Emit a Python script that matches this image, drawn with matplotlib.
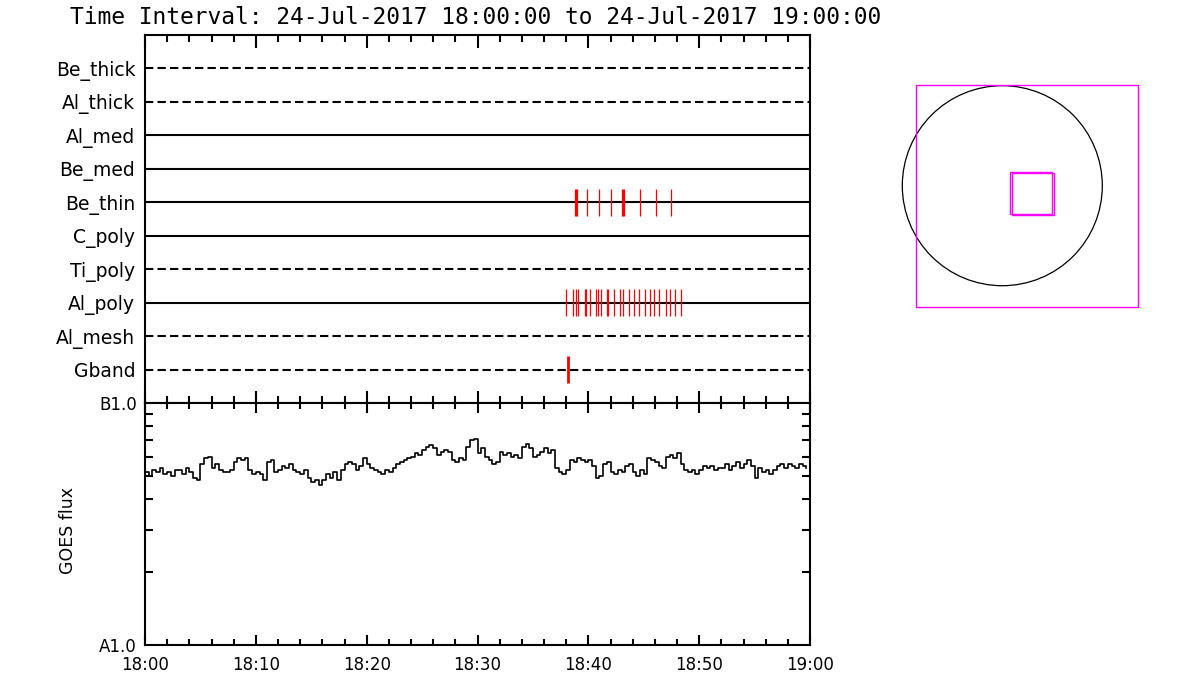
"""XRT filter coverage + GOES flux timeline"""

import numpy as np
import matplotlib
matplotlib.use('Agg')
import matplotlib.pyplot as plt
from matplotlib.patches import Circle, Rectangle
from matplotlib.ticker import FixedLocator, NullFormatter

# filters, bottom row first
filters = ['Gband', 'Al_mesh', 'Al_poly', 'Ti_poly', 'C_poly',
           'Be_thin', 'Be_med', 'Al_med', 'Al_thick', 'Be_thick']
dashed = ['Gband', 'Al_mesh', 'Ti_poly', 'Al_thick', 'Be_thick']

# exposure times, minutes after 18:00
be_thin_times = [38.8, 38.9, 39.0, 39.92, 40.95, 42.0, 43.02, 43.1, 43.26,
                 44.7, 46.15, 47.5]
al_poly_times = [38.02, 38.65, 38.92, 39.1, 39.67, 39.79, 40.18, 40.66,
                 40.84, 41.17, 41.71, 41.8, 42.34, 42.88, 43.15, 43.64,
                 44.14, 44.6, 45.08, 45.56, 45.95, 46.4, 47.03, 47.39,
                 47.84, 48.38]
gband_times = [38.14]

# GOES 1-8 A flux in units of 1e-8 W/m^2, one value per 20 s
goes_flux = [
    5.2, 5.0, 5.3, 5.2, 5.4, 5.1, 5.2, 5.0, 5.3, 5.3, 5.1, 5.4,
    5.2, 4.9, 4.8, 5.6, 5.9, 6.0, 5.4, 5.6, 5.3, 5.2, 5.2, 5.3,
    5.7, 5.9, 5.8, 5.9, 5.3, 5.1, 5.2, 5.1, 4.8, 5.7, 5.8, 5.2,
    5.3, 5.5, 5.4, 5.6, 5.3, 5.2, 5.1, 5.3, 4.9, 4.7, 4.8, 4.6,
    4.8, 5.1, 4.9, 5.2, 4.8, 5.3, 5.6, 5.7, 5.6, 5.3, 5.5, 5.9,
    5.6, 5.4, 5.3, 5.2, 5.1, 5.3, 5.2, 5.4, 5.6, 5.7, 5.8, 5.9,
    6.0, 6.2, 6.1, 6.4, 6.6, 6.7, 6.5, 6.1, 6.3, 6.4, 6.3, 5.8,
    5.7, 5.9, 5.8, 6.6, 7.0, 7.1, 6.2, 6.5, 6.0, 5.8, 5.6, 5.7,
    6.3, 6.1, 6.2, 6.0, 6.1, 5.9, 6.6, 6.8, 6.5, 6.0, 6.1, 6.3,
    6.5, 6.2, 6.4, 5.4, 5.2, 5.1, 5.3, 5.8, 5.7, 5.9, 5.8, 5.7,
    5.8, 5.5, 4.9, 5.0, 5.6, 5.7, 5.2, 5.1, 5.3, 5.2, 5.5, 5.6,
    5.2, 5.0, 5.3, 5.1, 5.9, 5.8, 5.7, 5.5, 5.4, 6.0, 6.1, 5.9,
    6.2, 5.6, 5.3, 5.2, 5.3, 5.1, 5.3, 5.5, 5.4, 5.5, 5.3, 5.4,
    5.4, 5.6, 5.3, 5.5, 5.7, 5.4, 5.6, 5.8, 5.5, 4.9, 5.4, 5.2,
    5.3, 5.1, 5.3, 5.5, 5.6, 5.4, 5.6, 5.5, 5.4, 5.6, 5.5, 5.4,
]
time_labels = ['18:00', '18:10', '18:20', '18:30', '18:40', '18:50', '19:00']

# solar disk and XRT fields of view (arcsec)
sun_radius = 945
fov_xcen = [236, 274, 293]
fov_ycen = [-96, -72, -81]
fov_size = [2100, 397, 397]

title = 'Time Interval: 24-Jul-2017 18:00:00 to 24-Jul-2017 19:00:00'

plt.rcParams['font.family'] = ['DejaVu Sans']
fig = plt.figure(figsize=(12, 7), dpi=100)
W, H = 1200.0, 700.0

fig.text(70 / W, 1 - 24 / H, title, fontsize=16.5, ha='left', va='baseline',
         family='DejaVu Sans Mono')

# --- filter panel
ax1 = fig.add_axes([145 / W, 1 - 403 / H, 665 / W, 368 / H])
for i, name in enumerate(filters):
    y = i + 1
    if name in dashed:
        ax1.plot([0, 60], [y, y], color='black', lw=1.5, dashes=(4, 2))
    else:
        ax1.plot([0, 60], [y, y], color='black', lw=1.5)

marks = {'Be_thin': (be_thin_times, 0.9), 'Al_poly': (al_poly_times, 0.9),
         'Gband': (gband_times, 2.0)}
for name, (times, lw) in marks.items():
    y = filters.index(name) + 1
    ax1.vlines(times, y - 0.4, y + 0.4, color='red', lw=lw)

ax1.set_xlim(0, 60)
ax1.set_ylim(0, 11)
ax1.set_yticks(range(1, len(filters) + 1))
ax1.set_yticklabels(filters, fontsize=13.5)
ax1.tick_params(axis='y', length=0, pad=7)
ax1.set_xticks(range(0, 61, 10))
ax1.xaxis.set_minor_locator(FixedLocator(range(0, 61, 2)))
ax1.tick_params(axis='x', which='both', direction='in', top=True, bottom=True,
                labelbottom=False, width=1.5)
ax1.tick_params(axis='x', which='major', length=9)
ax1.tick_params(axis='x', which='minor', length=5)
for s in ax1.spines.values():
    s.set_linewidth(1.5)

# --- GOES panel
ax2 = fig.add_axes([145 / W, 1 - 645 / H, 665 / W, 242 / H])
t = np.arange(len(goes_flux)) / 3.0
ax2.plot(t, np.array(goes_flux) * 1e-8, color='black', lw=1.2,
         drawstyle='steps-post')
ax2.set_yscale('log')
ax2.set_ylim(1e-8, 1e-7)
ax2.set_xlim(0, 60)
ax2.set_yticks([1e-8, 1e-7])
ax2.set_yticklabels(['A1.0', 'B1.0'], fontsize=12)
ax2.yaxis.set_minor_locator(FixedLocator([k * 1e-8 for k in range(2, 10)]))
ax2.yaxis.set_minor_formatter(NullFormatter())
ax2.tick_params(axis='y', which='both', direction='in', left=True, right=True,
                width=1.5, pad=6)
ax2.tick_params(axis='y', which='major', length=0)
ax2.tick_params(axis='y', which='minor', length=6)
ax2.set_xticks(range(0, 61, 10))
ax2.set_xticklabels(time_labels, fontsize=12)
ax2.xaxis.set_minor_locator(FixedLocator(range(0, 61, 2)))
ax2.tick_params(axis='x', which='both', direction='in', top=True, bottom=True,
                width=1.5, pad=8)
ax2.tick_params(axis='x', which='major', length=7)
ax2.tick_params(axis='x', which='minor', length=4)
for s in ax2.spines.values():
    s.set_linewidth(1.5)
fig.text(68 / W, 1 - 530 / H, 'GOES flux', fontsize=12.5, rotation=90,
         ha='center', va='center')

# --- context map of the Sun
scale = 9.45  # arcsec per pixel
cx, cy = 1002.3, 185.7
ax3 = fig.add_axes([880 / W, 1 - 350 / H, 300 / W, 300 / H])
ax3.set_xlim((880 - cx) * scale, (1180 - cx) * scale)
ax3.set_ylim((cy - 350) * scale, (cy - 50) * scale)
ax3.axis('off')
ax3.add_patch(Circle((0, 0), sun_radius, fill=False, color='black', lw=0.9))
for xc, yc, sz in zip(fov_xcen, fov_ycen, fov_size):
    ax3.add_patch(Rectangle((xc - sz / 2, yc - sz / 2), sz, sz, fill=False,
                            edgecolor='#ff00ff', lw=1.0))

fig.savefig('out.png', dpi=100)
